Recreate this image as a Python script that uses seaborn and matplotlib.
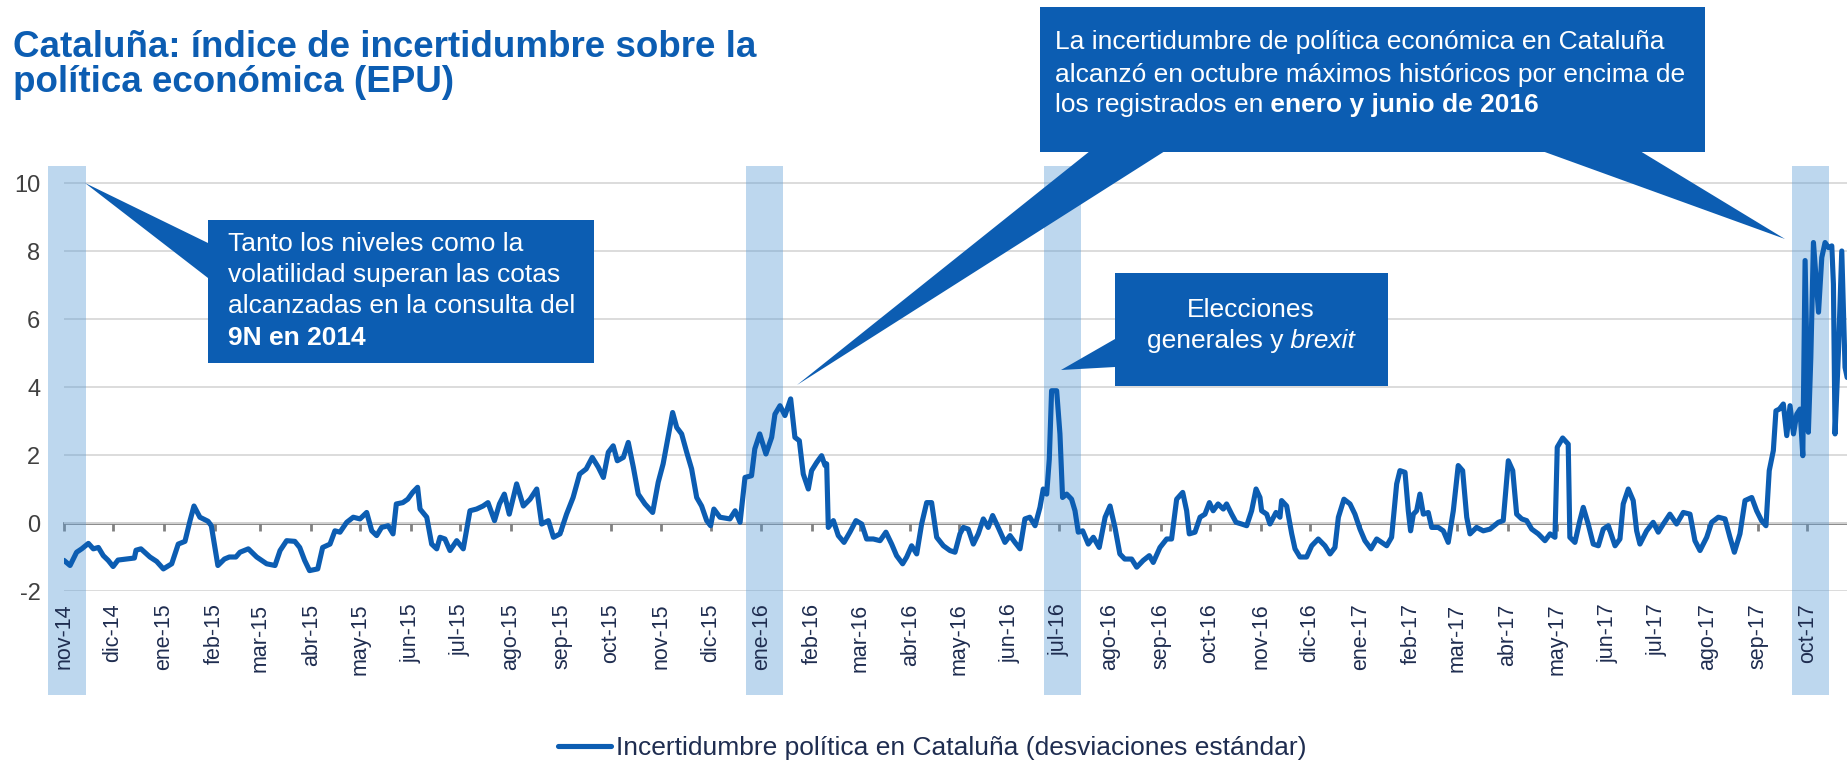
import matplotlib
matplotlib.use("Agg")
import pandas as pd
import seaborn as sns
import matplotlib.pyplot as plt
import matplotlib.dates as mdates
from matplotlib.patches import Polygon

# --- datos ---
inicio = pd.Timestamp("2014-11-01")

# dias desde el 1-nov-2014
dias = [
    0, 3.7, 7.7, 10.8, 14.9, 17.9, 21, 24, 27, 30, 33, 38, 43, 44, 47, 52.5, 56.6, 60.7,
    65.8, 69.8, 73.9, 77, 79.4, 83, 88, 90, 94, 98, 101, 105, 107.5, 112.6, 117.7, 123.8,
    128.9, 132, 136, 141, 144, 147, 150, 155, 158, 162.5, 165.5, 168.6, 172.7, 176.7, 180.8,
    184.9, 188, 191, 194, 198, 201, 203, 207, 210, 213, 216, 217.5, 221.6, 224.6, 227.7,
    229.7, 232.7, 235.8, 239.9, 243.9, 248, 252, 256, 259, 263, 266, 269, 272, 276.5, 280.6,
    284.7, 288.8, 291.8, 295.9, 299, 303, 307, 311, 315, 319, 322.7, 326.4, 329.5, 332.5,
    335.5, 338, 341.7, 344.7, 347.8, 350.8, 354.9, 359.6,
    363, 366, 369, 371.8, 374.3, 377.3, 380.4, 383.4, 386.5, 389.5, 392.6, 395, 397, 400.7,
    406.8, 410, 413, 416, 420, 422, 425, 428.8, 432.3, 434.3, 437.4, 440.4, 443.9, 446.5,
    449.2, 451.6, 454.7, 456.7, 459.8, 462.8, 464.9, 465.9, 466.9, 470, 473, 476.5, 480.1,
    483.8, 487.3, 490.3, 494.4, 498.5, 502.1, 505.6, 508.6, 512.3, 514.8, 517.8, 520.9,
    523.9, 527, 530, 533.1, 537.2, 541.2, 544.3, 547.3,
    549.4, 552.4, 555.5, 558.5, 561.6, 564.6, 567.3, 570.7, 574.8, 577.9, 580.9, 584, 587,
    590, 593.2, 596.2, 598.2, 600.3, 601.9, 603.3, 606.4, 608.4, 610, 612.5, 615.5, 617.6,
    619.6, 622.3, 625.7, 628.8, 632.4, 636, 639, 642, 645, 648, 652.2, 655.3, 659.3, 663,
    665.4, 669.5, 673.6, 676.6, 679.7, 683.4, 685.8, 687.4, 690.9, 694, 697, 699.7, 702,
    705, 708.2, 710.2, 713.3, 716, 719.4, 722.5, 725.5, 728.2, 730.6,
    731.6, 734.7, 736.7, 740.4, 742.8, 743.8, 746.9, 750, 752, 755, 759.1, 762.2, 766.2,
    770.3, 773.4, 776.4, 778.5, 781.9, 785.6, 788.6, 791.7, 794.7, 798.4, 801.9, 804.9,
    808, 811, 814.1, 816.1, 819.2, 821.2, 822.6, 824.3, 826.3, 828.3, 830.4, 833.4, 835.5,
    839.5, 842.6, 845.6, 848.7, 851.7, 854.4, 856.9, 858.9, 862.9, 867, 871.1, 876.2,
    879.2, 882.3, 885, 887.4, 890.5, 893.5, 896.6, 900.6, 904.7, 907.8, 910.8,
    912.2, 915.5, 918.9, 919.9, 923, 926, 928.1, 931.1, 934.2, 937.3, 940.3, 943.4, 947.5,
    950.5, 952.5, 955.6, 958.6, 960.7, 962.7, 966.8, 970.8, 973.9, 977, 981, 985.1, 989.2,
    993.3, 996.3, 999.4, 1003.5, 1006.5, 1010.6, 1014.7, 1017.7, 1020.4, 1023.8, 1026.9,
    1031, 1034, 1037, 1039.7, 1041.7, 1044.2, 1045.8, 1047.9, 1050.3, 1052.4, 1054.4,
    1056.5, 1058.5, 1060.5, 1062.2, 1063.6, 1065.6, 1067.1, 1068.7, 1071.8, 1073.8, 1075.8,
    1077.9, 1079.9, 1080.9, 1081.9, 1084, 1086, 1088, 1089.3,
]

valores = [
    -1.1, -1.25, -0.86, -0.76, -0.6, -0.76, -0.72, -0.96, -1.1, -1.28, -1.09, -1.06, -1.03, -0.8, -0.76, -1.0, -1.13, -1.35,
    -1.2, -0.62, -0.54, 0.07, 0.5, 0.17, 0.05, -0.08, -1.25, -1.06, -1.0, -1.0, -0.86, -0.76, -1.0, -1.2,
    -1.25, -0.81, -0.52, -0.54, -0.72, -1.1, -1.4, -1.35, -0.72, -0.62, -0.23, -0.27, 0.02, 0.17, 0.12,
    0.31, -0.23, -0.37, -0.13, -0.08, -0.32, 0.56, 0.6, 0.7, 0.9, 1.05, 0.41, 0.17, -0.62, -0.76,
    -0.42, -0.47, -0.81, -0.52, -0.76, 0.36, 0.41, 0.5, 0.6, 0.07, 0.56, 0.85, 0.26, 1.15, 0.5,
    0.7, 1.0, -0.03, 0.07, -0.42, -0.32, 0.26, 0.75, 1.44, 1.59, 1.93, 1.64, 1.34, 2.08,
    2.27, 1.83, 1.93, 2.37, 1.64, 0.85, 0.56, 0.31,
    1.2, 1.74, 2.52, 3.25, 2.81, 2.62, 2.08, 1.59, 0.75, 0.5, 0.07, -0.08, 0.41, 0.17,
    0.12, 0.36, 0.02, 1.34, 1.39, 2.18, 2.62, 2.03, 2.52, 3.2, 3.45, 3.16, 3.65, 2.52,
    2.42, 1.44, 1.0, 1.54, 1.78, 1.98, 1.69, 1.74, -0.13, 0.07, -0.37, -0.57, -0.27,
    0.07, -0.03, -0.47, -0.47, -0.52, -0.27, -0.62, -0.96, -1.2, -1.0, -0.67, -0.91,
    -0.03, 0.6, 0.6, -0.42, -0.67, -0.81, -0.86, -0.32,
    -0.13, -0.18, -0.62, -0.32, 0.12, -0.13, 0.22, -0.13, -0.57, -0.37, -0.57, -0.76, 0.12,
    0.17, -0.08, 0.46, 1.0, 0.85, 1.88, 3.89, 3.89, 2.62, 0.75, 0.85, 0.7, 0.36,
    -0.27, -0.23, -0.62, -0.42, -0.72, 0.17, 0.5, -0.13, -0.91, -1.06, -1.06, -1.3, -1.1, -0.96,
    -1.16, -0.72, -0.47, -0.47, 0.7, 0.9, 0.36, -0.32, -0.27, 0.17, 0.26, 0.6, 0.36,
    0.56, 0.41, 0.56, 0.26, 0.02, -0.03, -0.08, 0.36, 1.0, 0.75,
    0.36, 0.26, -0.03, 0.31, 0.17, 0.66, 0.5, -0.32, -0.76, -1.0, -1.0, -0.67, -0.47,
    -0.67, -0.91, -0.72, 0.17, 0.7, 0.56, 0.26, -0.18, -0.52, -0.76, -0.47, -0.57,
    -0.67, -0.42, 1.15, 1.54, 1.49, 0.36, -0.23, 0.26, 0.36, 0.85, 0.26, 0.31, -0.13,
    -0.13, -0.23, -0.57, 0.36, 1.69, 1.54, 0.17, -0.32, -0.13, -0.23, -0.18, 0.02,
    0.07, 1.83, 1.54, 0.26, 0.12, 0.07, -0.18, -0.32, -0.52, -0.32, -0.42,
    2.23, 2.5, 2.32, -0.42, -0.57, 0.07, 0.46, -0.03, -0.62, -0.67, -0.18, -0.08, -0.67,
    -0.47, 0.56, 1.0, 0.66, -0.23, -0.62, -0.23, 0.02, -0.27, -0.03, 0.26, -0.03, 0.31,
    0.26, -0.52, -0.81, -0.42, 0.02, 0.17, 0.12, -0.42, -0.86, -0.32, 0.66,
    0.75, 0.36, 0.07, -0.08, 1.54, 2.13, 3.3, 3.35, 3.5, 2.57, 3.45,
    2.62, 3.2, 3.35, 1.98, 7.72, 2.67, 4.87, 8.25, 6.2, 7.81, 8.25,
    8.1, 8.15, 7.03, 2.62, 5.07, 8.0, 4.58, 4.28,
]

meses = [
    "nov-14", "dic-14", "ene-15", "feb-15", "mar-15", "abr-15", "may-15", "jun-15",
    "jul-15", "ago-15", "sep-15", "oct-15", "nov-15", "dic-15", "ene-16", "feb-16",
    "mar-16", "abr-16", "may-16", "jun-16", "jul-16", "ago-16", "sep-16", "oct-16",
    "nov-16", "dic-16", "ene-17", "feb-17", "mar-17", "abr-17", "may-17", "jun-17",
    "jul-17", "ago-17", "sep-17", "oct-17",
]
bandas = ["2014-11-01", "2016-01-01", "2016-07-01", "2017-10-01"]

titulo = ["Cataluña: índice de incertidumbre sobre la", "política económica (EPU)"]
leyenda = "Incertidumbre política en Cataluña (desviaciones estándar)"

# --- estilo ---
W, H = 1847, 765
AZUL = "#0C5DB2"
NAVY = "#1F2D50"

sns.set_style("white")
plt.rcParams["font.family"] = ["Liberation Sans", "DejaVu Sans"]
plt.rcParams["axes.unicode_minus"] = False


def fx(x):
    return x / W


def fy(y):
    return 1 - y / H


df = pd.DataFrame({"fecha": inicio + pd.to_timedelta(dias, unit="D"), "valor": valores})
ticks = pd.date_range(inicio, periods=len(meses), freq="MS")

fig = plt.figure(figsize=(W / 100, H / 100), dpi=100)
ax = fig.add_axes([fx(64), fy(591), 1 - fx(64), 425 / H])

sns.lineplot(data=df, x="fecha", y="valor", ax=ax, color=AZUL, lw=3.7,
             label=leyenda, zorder=3, estimator=None)

ax.set_xlim(inicio, inicio + pd.Timedelta(days=1089.2))
ax.set_ylim(-2, 10.5)
ax.set_xlabel("")
ax.set_ylabel("")
for s in ax.spines.values():
    s.set_visible(False)

ax.set_yticks(range(-2, 11, 2))
ax.yaxis.grid(True, color="#D9D9D9", lw=1.3)
ax.xaxis.grid(False)
ax.tick_params(axis="y", length=0, pad=17, labelsize=17, labelcolor="#404040")
ax.set_xticks(ticks)
ax.set_xticklabels(meses, rotation=90, ha="center", va="top")
ax.tick_params(axis="x", length=0, pad=9, labelsize=15.5, labelcolor=NAVY)
ax.yaxis.set_zorder(0.5)
ax.xaxis.set_zorder(1.5)

# franjas de meses destacados
for b in bandas:
    c = pd.Timestamp(b) + pd.Timedelta(days=2)
    ax.axvspan(c - pd.Timedelta(days=11.5), c + pd.Timedelta(days=11.5), ymin=-0.245, ymax=1,
               color="#5B9BD5", alpha=0.4, lw=0, zorder=1, clip_on=False)

# eje en cero con marcas mensuales
sec = ax.secondary_xaxis(2 / 12.5)
sec.set_xticks(mdates.date2num(ticks))
sec.tick_params(axis="x", labelbottom=False, labeltop=False, length=6, width=2,
                color="#808080", direction="out")
sec.spines["bottom"].set_color("#808080")
sec.spines["bottom"].set_linewidth(2)

# leyenda
handles, labels = ax.get_legend_handles_labels()
if ax.get_legend() is not None:
    ax.get_legend().remove()
fig.legend(handles, labels, loc="center", bbox_to_anchor=(fx(932), fy(748)), frameon=False,
           fontsize=19, handlelength=2.0, handletextpad=0.2, labelcolor=NAVY)

# titulo
fig.text(fx(13), fy(57), titulo[0], fontsize=26.5, weight="bold", color=AZUL, va="baseline")
fig.text(fx(13), fy(92), titulo[1], fontsize=26.5, weight="bold", color=AZUL, va="baseline")

# globos
formas = [
    [(208, 220), (594, 220), (594, 363), (208, 363), (208, 278), (85, 183), (208, 243)],
    [(1115, 273), (1388, 273), (1388, 386), (1115, 386), (1115, 367), (1061, 370), (1115, 339)],
    [(1040, 7), (1705, 7), (1705, 152), (1040, 152)],
    [(797, 385), (1090, 151), (1165, 151)],
    [(1785, 239), (1542, 151), (1640, 151)],
]
for f in formas:
    fig.add_artist(Polygon([(fx(x), fy(y)) for x, y in f], closed=True, transform=fig.transFigure,
                           facecolor=AZUL, edgecolor="none", zorder=2))

renderer = fig.canvas.get_renderer()


def linea(x, y, partes, centrado=False):
    objs = [fig.text(0, fy(y), t, color="white", fontsize=19, va="baseline", zorder=4, **kw)
            for t, kw in partes]
    anchos = [o.get_window_extent(renderer).width for o in objs]
    x0 = x - sum(anchos) / 2 if centrado else x
    for o, a in zip(objs, anchos):
        o.set_x(fx(x0))
        x0 += a


linea(228, 251, [("Tanto los niveles como la", {})])
linea(228, 282, [("volatilidad superan las cotas", {})])
linea(228, 313, [("alcanzadas en la consulta del", {})])
linea(228, 345, [("9N en 2014", {"weight": "bold"})])

linea(1251, 317, [("Elecciones", {})], centrado=True)
linea(1251, 348, [("generales y", {}), (" brexit", {"style": "italic"})], centrado=True)

linea(1055, 49, [("La incertidumbre de política económica en Cataluña", {})])
linea(1055, 82, [("alcanzó en octubre máximos históricos por encima de", {})])
linea(1055, 112, [("los registrados en", {}), (" enero y junio de 2016", {"weight": "bold"})])

fig.savefig("out.png", dpi=100)
